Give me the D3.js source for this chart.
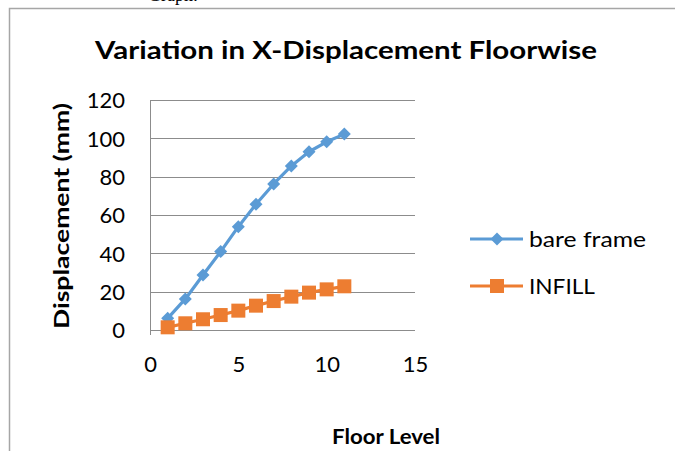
<!DOCTYPE html>
<html><head><meta charset="utf-8">
<script src="https://cdn.jsdelivr.net/npm/d3@7"></script>
<style>body{margin:0;background:#fff}svg{display:block}text{font-family:Lato,"Open Sans",sans-serif}</style>
</head><body>
<svg id="c" width="675" height="451"></svg>
<script>
const floors = [1,2,3,4,5,6,7,8,9,10,11];
const bareFrame = [6.1,16.2,28.7,40.9,53.9,65.6,76.2,85.6,93.0,98.2,102.2];
const infill = [1.4,3.5,5.6,7.8,10.1,12.7,15.1,17.4,19.5,21.2,22.8];
const seriesNames = ["bare frame","INFILL"];
const xTicks = [0,5,10,15];
const yTicks = [0,20,40,60,80,100,120];
const title = "Variation in X-Displacement Floorwise";
const xTitle = "Floor Level";
const yTitle = "Displacement (mm)";

const svg = d3.select("#c");
const blue = "#5B9BD5", orange = "#ED7D31", grid = "#8c8c8c";

// clipped document text above the chart
svg.append("text").attr("x",148).attr("y",1).style("font-family","Liberation Serif").style("font-size","18px").attr("fill","#000").text("Graph:");
// chart frame
svg.append("path").attr("d","M9.5,451 V8.5 H675").attr("fill","none").attr("stroke","#a6a6a6").attr("stroke-width",1.5);

const x = d3.scaleLinear().domain([0,15]).range([150,415]);
const y = d3.scaleLinear().domain([0,120]).range([330,100]);

// gridlines
svg.append("g").selectAll("line").data(yTicks).join("line")
  .attr("x1",x(0)).attr("x2",x(15)).attr("y1",d=>Math.round(y(d))+0.5).attr("y2",d=>Math.round(y(d))+0.5)
  .attr("stroke",grid).attr("stroke-width",1);
// y axis line
svg.append("line").attr("x1",x(0)+0.5).attr("x2",x(0)+0.5).attr("y1",y(120)).attr("y2",y(0)+5).attr("stroke",grid);

const yAxis = svg.append("g").attr("transform",`translate(${x(0)},0)`)
  .call(d3.axisLeft(y).tickValues(yTicks).tickSize(0).tickPadding(25));
yAxis.select(".domain").remove();
yAxis.selectAll("text").style("font-size","22px").attr("fill","#000").attr("dy","0.36em");

const xAxis = svg.append("g").attr("transform",`translate(0,${y(0)})`)
  .call(d3.axisBottom(x).tickValues(xTicks).tickSize(0).tickPadding(26));
xAxis.select(".domain").remove();
xAxis.selectAll("text").style("font-size","22px").attr("fill","#000").attr("dy","0.71em");

// titles
svg.append("text").attr("x",346).attr("y",59).attr("text-anchor","middle")
  .style("font-size","25px").style("font-weight","bold").attr("textLength",502).attr("lengthAdjust","spacingAndGlyphs").text(title);
svg.append("text").attr("x",386).attr("y",444).attr("text-anchor","middle")
  .style("font-size","21px").style("font-weight","bold").attr("textLength",108).attr("lengthAdjust","spacingAndGlyphs").text(xTitle);
svg.append("text").attr("transform","translate(69,216) rotate(-90)").attr("text-anchor","middle")
  .style("font-size","21px").style("font-weight","bold").attr("textLength",226).attr("lengthAdjust","spacingAndGlyphs").text(yTitle);

const line = d3.line().x(d=>x(d[0])).y(d=>y(d[1]));
const bData = floors.map((f,i)=>[f,bareFrame[i]]);
const iData = floors.map((f,i)=>[f,infill[i]]);

const diamond = (cx,cy,r)=>`M${cx},${cy-r}L${cx+r},${cy}L${cx},${cy+r}L${cx-r},${cy}Z`;

svg.append("path").attr("d",line(bData)).attr("fill","none").attr("stroke",blue).attr("stroke-width",3.2).attr("stroke-linejoin","round");
svg.append("g").selectAll("path").data(bData).join("path")
  .attr("d",d=>diamond(x(d[0]),y(d[1]),6.5)).attr("fill",blue);

svg.append("path").attr("d",line(iData)).attr("fill","none").attr("stroke",orange).attr("stroke-width",3.2).attr("stroke-linejoin","round");
svg.append("g").selectAll("rect").data(iData).join("rect")
  .attr("x",d=>x(d[0])-7).attr("y",d=>y(d[1])-7).attr("width",14).attr("height",14).attr("fill",orange);

// legend
const leg = svg.append("g");
const ly = [239,286];
const lw = [117,66];
[blue,orange].forEach((c,i)=>{
  leg.append("line").attr("x1",470).attr("x2",523).attr("y1",ly[i]).attr("y2",ly[i]).attr("stroke",c).attr("stroke-width",3.2);
  if(i===0) leg.append("path").attr("d",diamond(497,ly[i],6.5)).attr("fill",c);
  else leg.append("rect").attr("x",490).attr("y",ly[i]-7).attr("width",14).attr("height",14).attr("fill",c);
  leg.append("text").attr("x",529).attr("y",ly[i]).attr("dy","0.35em").style("font-size","22px").attr("fill","#000")
    .attr("textLength",lw[i]).attr("lengthAdjust","spacingAndGlyphs").text(seriesNames[i]);
});
</script>
</body></html>
